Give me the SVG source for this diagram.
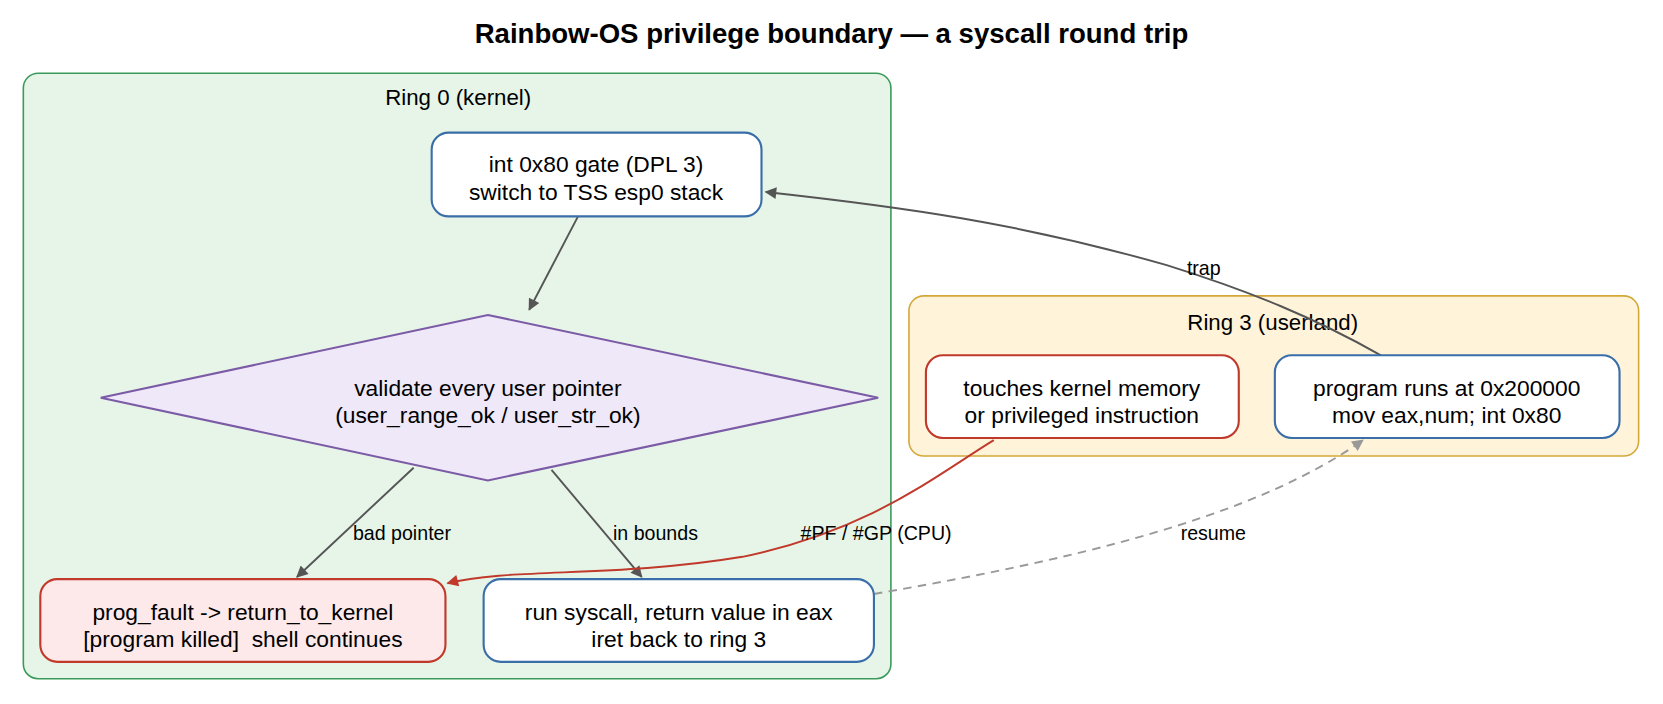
<svg xmlns="http://www.w3.org/2000/svg" width="1663" height="704" viewBox="0 0 1663 704">
<defs>
<style>
text{font-family:"Liberation Sans",Arial,sans-serif;fill:#000}
.t{font-size:26px;font-weight:bold;text-anchor:middle}
.c{font-size:21px;text-anchor:middle}
.n{font-size:21.5px;text-anchor:middle}
.e{font-size:18.5px;text-anchor:middle}
.blue{fill:#fff;stroke:#3a6ea8;stroke-width:2}
.red{fill:#fff;stroke:#c0392b;stroke-width:2}
.edge{fill:none;stroke:#555;stroke-width:1.8}
</style>
<marker id="ag" viewBox="0 0 10 10" refX="9" refY="5" markerWidth="13" markerHeight="11" markerUnits="userSpaceOnUse" orient="auto"><path d="M0,0L10,5L0,10z" fill="#555"/></marker>
<marker id="ar" viewBox="0 0 10 10" refX="9" refY="5" markerWidth="13" markerHeight="11" markerUnits="userSpaceOnUse" orient="auto"><path d="M0,0L10,5L0,10z" fill="#c0392b"/></marker>
<marker id="al" viewBox="0 0 10 10" refX="9" refY="5" markerWidth="13" markerHeight="11" markerUnits="userSpaceOnUse" orient="auto"><path d="M0,0L10,5L0,10z" fill="#999"/></marker>
</defs>
<rect width="1663" height="704" fill="#fff"/>
<g transform="scale(1.0606)">
<text class="t" x="784" y="41">Rainbow-OS privilege boundary — a syscall round trip</text>
<g id="ring0"><rect x="22" y="69" width="818" height="571" rx="14" fill="#e6f5e8" stroke="#3a9a5a" stroke-width="1.5"/><text class="c" x="432" y="99">Ring 0 (kernel)</text></g>
<g id="ring3"><rect x="857" y="279" width="688" height="151" rx="14" fill="#fff3da" stroke="#d4a838" stroke-width="1.5"/><text class="c" x="1200" y="311">Ring 3 (userland)</text></g>
<g id="connectors">
<path class="edge" d="M545,204L499,292" marker-end="url(#ag)"/>
<path class="edge" d="M390,441L280,544" marker-end="url(#ag)"/>
<text class="e" x="379" y="509">bad pointer</text>
<path class="edge" d="M520,443L605,544" marker-end="url(#ag)"/>
<text class="e" x="618" y="509">in bounds</text>
<path class="edge" d="M1302,335C1240,300 1180,275 1100,250C960,210 850,195 722,181" marker-end="url(#ag)"/>
<text class="e" x="1135" y="259">trap</text>
<path d="M937,415C880,450 820,500 700,525C580,545 480,535 422,550" fill="none" stroke="#c0392b" stroke-width="1.8" marker-end="url(#ar)"/>
<text class="e" x="826" y="509">#PF / #GP (CPU)</text>
<path d="M824,560C1000,530 1180,490 1285,415" fill="none" stroke="#999" stroke-width="1.8" stroke-dasharray="8,6" marker-end="url(#al)"/>
<text class="e" x="1144" y="509">resume</text>
</g>
<g id="gate"><rect class="blue" x="407" y="125" width="311" height="79" rx="16"/><text class="n" x="562" y="162.5">int 0x80 gate (DPL 3)</text><text class="n" x="562" y="188.5">switch to TSS esp0 stack</text></g>
<g id="validate"><polygon points="460,297 828,375 460,453 95,375" fill="#efe8f8" stroke="#7b5aa6" stroke-width="2"/><text class="n" x="460" y="373.5">validate every user pointer</text><text class="n" x="460" y="399">(user_range_ok / user_str_ok)</text></g>
<g id="fault"><rect x="38" y="546" width="382" height="78" rx="16" fill="#fde9ea" stroke="#c0392b" stroke-width="2"/><text class="n" x="229" y="585">prog_fault -&gt; return_to_kernel</text><text class="n" x="229" y="610.5" xml:space="preserve">[program killed]  shell continues</text></g>
<g id="run"><rect class="blue" x="456" y="546" width="368" height="78" rx="16"/><text class="n" x="640" y="585">run syscall, return value in eax</text><text class="n" x="640" y="610.5">iret back to ring 3</text></g>
<g id="touch"><rect class="red" x="873" y="335" width="295" height="78" rx="16"/><text class="n" x="1020" y="373.5">touches kernel memory</text><text class="n" x="1020" y="399">or privileged instruction</text></g>
<g id="prog"><rect class="blue" x="1202" y="335" width="325" height="78" rx="16"/><text class="n" x="1364" y="373.5">program runs at 0x200000</text><text class="n" x="1364" y="399">mov eax,num; int 0x80</text></g>
</g>
</svg>
